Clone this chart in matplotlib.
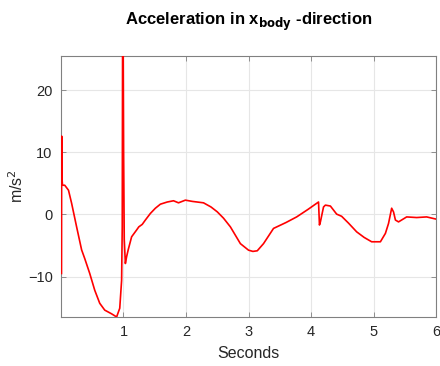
import matplotlib
matplotlib.use("Agg")
import matplotlib.pyplot as plt

# Body-frame longitudinal acceleration samples (seconds, m/s^2)
time_s = [0.008, 0.011, 0.014, 0.018, 0.025, 0.06, 0.12, 0.17, 0.25, 0.33, 0.38,
          0.46, 0.54, 0.62, 0.70, 0.81, 0.89, 0.94, 0.97, 0.98, 0.986,
          0.994, 1.002, 1.012, 1.03, 1.05, 1.075, 1.13, 1.21, 1.245,
          1.30, 1.35, 1.43, 1.51, 1.59, 1.70, 1.80, 1.88, 1.99, 2.10, 2.28,
          2.40, 2.50, 2.60, 2.71, 2.87, 3.0, 3.07, 3.14, 3.24, 3.40, 3.60,
          3.77, 3.95, 4.12, 4.135, 4.15, 4.20, 4.23, 4.31, 4.41, 4.49, 4.60,
          4.73, 4.85, 4.97, 5.11, 5.19, 5.24, 5.29, 5.32, 5.35, 5.40, 5.53,
          5.69, 5.85, 6.0]
accel = [-9.5, 12.6, 8.0, 5.5, 4.7, 4.7, 3.9, 1.8, -2.0, -5.7, -7.1,
         -9.5, -12.2, -14.3, -15.4, -16.0, -16.5, -15.1, -10.6, -2.0, 30.0,
         30.0, 10.0, -4.0, -7.9, -6.8, -5.7, -3.6, -2.5, -2.0,
         -1.6, -0.9, 0.16, 1.0, 1.65, 2.0, 2.2, 1.87, 2.3, 2.1, 1.87,
         1.2, 0.42, -0.6, -2.0, -4.7, -5.75, -5.95, -5.85, -4.7, -2.25, -1.3,
         -0.4, 0.8, 2.0, -1.7, -1.2, 1.2, 1.5, 1.35, 0.05, -0.3, -1.4,
         -2.8, -3.7, -4.4, -4.4, -3.05, -1.45, 1.0, 0.4, -0.9, -1.2, -0.4,
         -0.5, -0.4, -0.75]

x_ticks = [1, 2, 3, 4, 5, 6]
y_ticks = [-10, 0, 10, 20]

fig = plt.figure(figsize=(4.4, 3.66), dpi=100)
ax = fig.add_axes([0.1386, 0.134, 0.8524, 0.713])

ax.plot(time_s, accel, color="#ff0000", linewidth=1.2, zorder=3)

ax.set_xlim(0, 6)
ax.set_ylim(-16.5, 25.5)
ax.set_xticks(x_ticks)
ax.set_yticks(y_ticks)

font = "Liberation Sans"
ax.grid(True, color="#e6e6e6", linewidth=0.8)
ax.set_axisbelow(True)
ax.tick_params(direction="in", top=True, right=True, length=3.5, width=0.6,
               colors="#808080", labelcolor="#262626", labelsize=10.5, pad=6)
for lbl in ax.get_xticklabels() + ax.get_yticklabels():
    lbl.set_fontfamily(font)
for sp in ax.spines.values():
    sp.set_color("#808080")
    sp.set_linewidth(0.8)

ax.set_xlabel("Seconds", fontsize=11.5, family=font, color="#262626", labelpad=5)
ax.set_ylabel("m/s$^2$", fontsize=11.5, family=font, color="#262626", labelpad=1)
ax.set_title(r"Acceleration in x$_{\mathbf{body}}$ -direction", fontsize=12,
             family=font, fontweight="bold", pad=22)

fig.savefig("out.png", dpi=100)
